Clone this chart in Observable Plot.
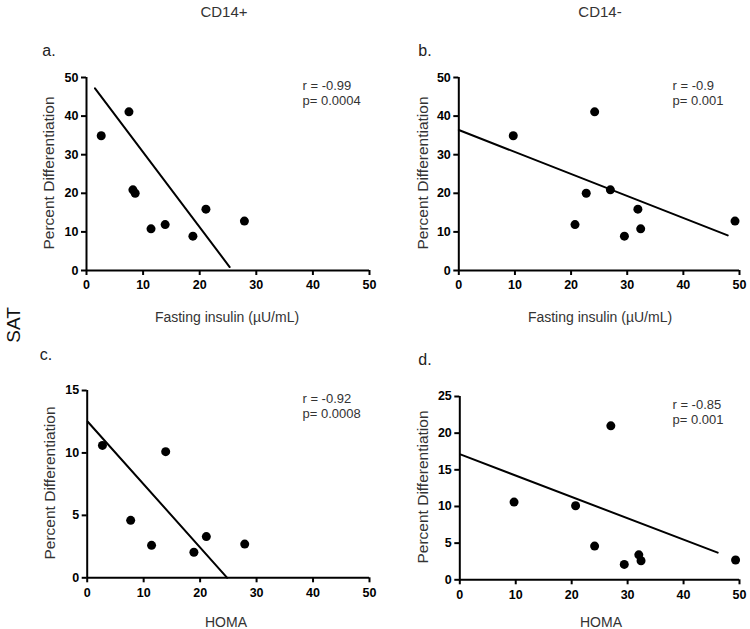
<!DOCTYPE html>
<html>
<head>
<meta charset="utf-8">
<script src="https://cdn.jsdelivr.net/npm/d3@7"></script>
<script src="https://cdn.jsdelivr.net/npm/@observablehq/plot@0.6"></script>
<style>
  html, body { margin: 0; padding: 0; background: #fff; }
  #wrap { position: relative; width: 750px; height: 629px; font-family: "Liberation Sans", Arial, sans-serif; color: #333; }
  .t { position: absolute; white-space: nowrap; line-height: 1; }
  .ctr { transform: translate(-50%, -50%); }
  .plot { position: absolute; }
  .plot svg { overflow: visible; }
  .plot svg g[aria-label$="tick label"] text { font-weight: bold !important; font-size: 12.5px !important; fill: #000; }
</style>
</head>
<body>
<div id="wrap"></div>
<script>
// ---- Data ----
const colTitles = ["CD14+", "CD14-"];
const panelLetters = ["a.", "b.", "c.", "d."];
const rowTitle = "SAT";
const yTitle = "Percent Differentiation";
const xTitles = ["Fasting insulin (\u00b5U/mL)", "Fasting insulin (\u00b5U/mL)", "HOMA", "HOMA"];
const stats = [["r = -0.99", "p= 0.0004"], ["r = -0.9", "p= 0.001"], ["r = -0.92", "p= 0.0008"], ["r = -0.85", "p= 0.001"]];

// panel a: CD14+ vs fasting insulin
const aX = [2.6, 7.5, 8.2, 8.6, 11.4, 13.9, 18.8, 21.1, 27.9];
const aY = [34.9, 41.1, 20.9, 20.0, 10.8, 11.9, 8.9, 15.9, 12.8];
const aLineX = [1.5, 25.3];
const aLineY = [47.2, 0.9];

// panel b: CD14- vs fasting insulin
const bX = [9.7, 24.2, 22.7, 27.0, 20.7, 29.5, 31.9, 32.4, 49.2];
const bY = [34.9, 41.1, 20.0, 20.9, 11.9, 8.9, 15.9, 10.8, 12.8];
const bLineX = [0, 47.9];
const bLineY = [36.4, 9.1];

// panel c: CD14+ vs HOMA
const cX = [2.7, 7.7, 11.4, 13.9, 18.9, 21.1, 27.9];
const cY = [10.6, 4.6, 2.6, 10.1, 2.05, 3.3, 2.7];
const cLineX = [0.1, 24.8];
const cLineY = [12.5, 0];

// panel d: CD14- vs HOMA
const dX = [9.7, 20.7, 24.1, 27.0, 29.4, 32.0, 32.4, 49.3];
const dY = [10.6, 10.1, 4.6, 21.0, 2.1, 3.4, 2.6, 2.7];
const dLineX = [0.1, 46.1];
const dLineY = [17.1, 3.7];

const xTicks = [0, 10, 20, 30, 40, 50];
const yTicksAB = [0, 10, 20, 30, 40, 50];
const yTicksC = [0, 5, 10, 15];
const yTicksD = [0, 5, 10, 15, 20, 25];

// ---- Layout ----
const wrap = document.getElementById("wrap");
function addText(txt, x, y, style) {
  const d = document.createElement("div");
  d.className = "t ctr";
  d.textContent = txt;
  d.style.left = x + "px";
  d.style.top = y + "px";
  Object.assign(d.style, style || {});
  wrap.appendChild(d);
  return d;
}

const panels = [
  {X: aX, Y: aY, LX: aLineX, LY: aLineY, yDom: [0, 50], yTicks: yTicksAB,
   left: 30, top: 60, width: 350, height: 240, mL: 56, mT: 17, mR: 11, mB: 30},
  {X: bX, Y: bY, LX: bLineX, LY: bLineY, yDom: [0, 50], yTicks: yTicksAB,
   left: 400, top: 60, width: 350, height: 240, mL: 58.3, mT: 17, mR: 11, mB: 30},
  {X: cX, Y: cY, LX: cLineX, LY: cLineY, yDom: [0, 15], yTicks: yTicksC,
   left: 30, top: 372, width: 350, height: 235.3, mL: 56.7, mT: 18, mR: 11, mB: 30},
  {X: dX, Y: dY, LX: dLineX, LY: dLineY, yDom: [0, 25], yTicks: yTicksD,
   left: 400, top: 378, width: 350, height: 231.3, mL: 59.3, mT: 18, mR: 11, mB: 30}
];

panels.forEach((p, i) => {
  const pts = p.X.map((x, k) => ({x, y: p.Y[k]}));
  const line = p.LX.map((x, k) => ({x, y: p.LY[k]}));
  const chart = Plot.plot({
    width: p.width, height: p.height,
    marginLeft: p.mL, marginTop: p.mT, marginRight: p.mR, marginBottom: p.mB,
    style: {fontFamily: "'Liberation Sans', Arial, sans-serif", fontSize: "12px", color: "#000", background: "transparent"},
    x: {domain: [0, 50]},
    y: {domain: p.yDom},
    marks: [
      Plot.axisX({ticks: xTicks, tickSize: 5, tickPadding: 5, strokeWidth: 2, fontWeight: "bold", fontSize: 12.5, fill: "#000", label: null}),
      Plot.axisY({ticks: p.yTicks, tickSize: 5, tickPadding: 3, strokeWidth: 2, fontWeight: "bold", fontSize: 12.5, fill: "#000", label: null}),
      Plot.ruleY([p.yDom[0]], {stroke: "#000", strokeWidth: 2}),
      Plot.ruleX([0], {stroke: "#000", strokeWidth: 2}),
      Plot.line(line, {x: "x", y: "y", stroke: "#000", strokeWidth: 2}),
      Plot.dot(pts, {x: "x", y: "y", r: 4.5, fill: "#000", stroke: "none"}),
      Plot.text([stats[i][0]], {text: d => d, frameAnchor: "top-right", textAnchor: "start", lineAnchor: "middle", dx: -67, dy: 8, fontSize: 13, fill: "#333"}),
      Plot.text([stats[i][1]], {text: d => d, frameAnchor: "top-right", textAnchor: "start", lineAnchor: "middle", dx: -67, dy: 23, fontSize: 13, fill: "#333"})
    ]
  });
  const holder = document.createElement("div");
  holder.className = "plot";
  holder.style.left = p.left + "px";
  holder.style.top = p.top + "px";
  holder.appendChild(chart);
  wrap.appendChild(holder);
});

// column titles
addText(colTitles[0], 224, 11, {fontSize: "15px"});
addText(colTitles[1], 600, 11, {fontSize: "15px"});
// panel letters
addText(panelLetters[0], 49, 51, {fontSize: "16px", color: "#222"});
addText(panelLetters[1], 425, 51, {fontSize: "16px", color: "#222"});
addText(panelLetters[2], 46, 355, {fontSize: "16px", color: "#222"});
addText(panelLetters[3], 425, 360, {fontSize: "16px", color: "#222"});
// x titles
addText(xTitles[0], 227, 317, {fontSize: "14px"});
addText(xTitles[1], 600, 317, {fontSize: "14px"});
addText(xTitles[2], 226, 622, {fontSize: "14px"});
addText(xTitles[3], 601, 622, {fontSize: "14px"});
// y titles (rotated)
[[49, 173], [423, 173], [50, 483], [423, 487]].forEach(([x, y]) => {
  const d = addText(yTitle, x, y, {fontSize: "15.5px"});
  d.style.transform = "translate(-50%, -50%) rotate(-90deg)";
});
// row title
const sat = addText(rowTitle, 13, 325, {fontSize: "19px", color: "#111"});
sat.style.transform = "translate(-50%, -50%) rotate(-90deg)";
</script>
</body>
</html>
